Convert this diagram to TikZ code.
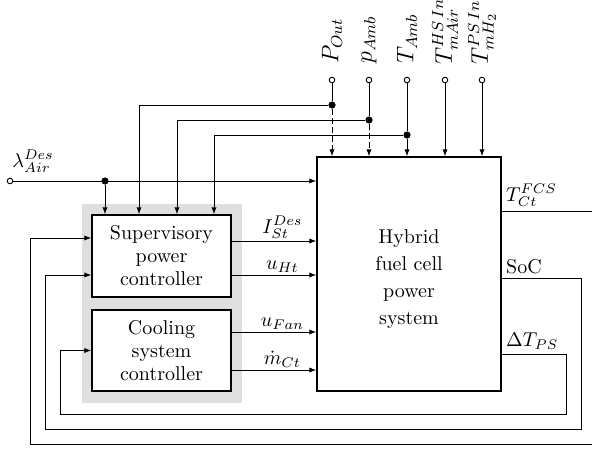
\documentclass[tikz,border=0pt]{standalone}
\usetikzlibrary{arrows.meta,calc}
\begin{document}
\begin{tikzpicture}[x=0.5pt,y=-0.5pt,
  >={Latex[length=3.5pt,width=2.6pt]},
  line width=0.45pt,
  blk/.style={draw,line width=0.7pt,fill=white,inner sep=0pt,align=center},
  term/.style={circle,draw,fill=white,minimum size=2.8pt,inner sep=0pt,line width=0.45pt},
  junc/.style={circle,fill=black,minimum size=3.6pt,inner sep=0pt},
  toplab/.style={rotate=90,anchor=west,font=\large},
  lab/.style={inner sep=1pt},
  dsh/.style={dash pattern=on 3pt off 1.5pt}
]
\useasboundingbox (0,0) rectangle (592,449);
% grey background of the controllers
\node[fill=gray!25,minimum width=80pt,minimum height=99.5pt,inner sep=0pt] (bg) at (162,303.5) {};
% blocks
\node[blk,minimum width=69.5pt,minimum height=41pt,font=\fontsize{10}{11.5}\selectfont] (sup) at (161.5,256) {Supervisory\\power\\controller};
\node[blk,minimum width=69.5pt,minimum height=40.5pt,font=\fontsize{10}{11.5}\selectfont] (cool) at (161.5,350.5) {Cooling\\system\\controller};
\node[blk,minimum width=92pt,minimum height=117pt] (main) at (409,274) {};
\node[align=center,inner sep=0pt,font=\fontsize{10}{13.5}\selectfont] (maintxt) at ([yshift=-2.5pt]main.center) {Hybrid\\fuel cell\\power\\system};
% terminals
\node[term] (pout) at (332,80) {};
\node[term] (pamb) at (369,80) {};
\node[term] (tamb) at (407,80) {};
\node[term] (ths) at (445,80) {};
\node[term] (tps) at (482,80) {};
\node[term] (lam) at (10,181) {};
% top labels
\node[toplab] at ([yshift=3pt]pout.north) {$P_{Out}$};
\node[toplab] at ([yshift=3pt]pamb.north) {$p_{Amb}$};
\node[toplab] at ([yshift=3pt]tamb.north) {$T_{Amb}$};
\node[toplab] at ([yshift=2.5pt]ths.north) {$T_{mAir}^{HS\,In}$};
\node[toplab] at ([yshift=2.5pt]tps.north) {$T_{mH_2}^{PS\,In}$};
\node[anchor=base west,inner sep=0pt] at ([xshift=1pt,yshift=7pt]lam.center) {$\lambda_{Air}^{Des}$};
% junctions
\node[junc] (j1) at (332,105) {};
\node[junc] (j2) at (369,120) {};
\node[junc] (j3) at (407,135) {};
\node[junc] (jl) at (105,181) {};
\coordinate (c2) at (139,0);
\coordinate (c3) at (177,0);
\coordinate (c4) at (214,0);
% inputs into the main block
\draw (pout) -- (j1);
\draw[->,dsh] (j1) -- (j1 |- main.north);
\draw (pamb) -- (j2);
\draw[->,dsh] (j2) -- (j2 |- main.north);
\draw (tamb) -- (j3);
\draw[->] (j3) -- (j3 |- main.north);
\draw[->] (ths) -- (ths |- main.north);
\draw[->] (tps) -- (tps |- main.north);
\draw[->] (lam) -- (lam -| main.west);
% branches into the supervisory controller
\draw[->] (jl) -- (jl |- sup.north);
\draw[->] (j1) -| (c2 |- sup.north);
\draw[->] (j2) -| (c3 |- sup.north);
\draw[->] (j3) -| (c4 |- sup.north);
% controller outputs
\coordinate (oI) at ([yshift=7.5pt]sup.east);
\coordinate (oH) at ([yshift=-9.5pt]sup.east);
\coordinate (oF) at ([yshift=9.25pt]cool.east);
\coordinate (oC) at ([yshift=-9.75pt]cool.east);
\draw[->] (oI) -- (oI -| main.west) node[pos=0.6,above,lab] {$I_{St}^{Des}$};
\draw[->] (oH) -- (oH -| main.west) node[pos=0.6,above,lab] {$u_{Ht}$};
\draw[->] (oF) -- (oF -| main.west) node[pos=0.6,above,lab] {$u_{Fan}$};
\draw[->] (oC) -- (oC -| main.west) node[pos=0.6,above,lab] {$\dot{m}_{Ct}$};
% feedback
\coordinate (oT) at ([yshift=31.5pt]main.east);
\coordinate (oS) at ([yshift=-2pt]main.east);
\coordinate (oD) at ([yshift=-40pt]main.east);
\coordinate (iT) at ([yshift=9pt]sup.west);
\coordinate (iS) at ([yshift=-9.5pt]sup.west);
\coordinate (iD) at (cool.west);
\draw[->] (oT) -- (600,211) -- (600,444) -- (30,444) |- (iT);
\draw[->] (oS) -- (581,278) -- (581,429) -- (45,429) |- (iS);
\draw[->] (oD) -- (566,354) -- (566,414) -- (60,414) |- (iD);
\node[anchor=south west,lab] at ([xshift=1pt,yshift=1pt]oT) {$T_{Ct}^{FCS}$};
\node[anchor=south west,lab] at ([xshift=1pt,yshift=1pt]oS) {SoC};
\node[anchor=south west,lab] at ([xshift=1pt,yshift=1pt]oD) {$\Delta T_{PS}$};
\end{tikzpicture}
\end{document}
